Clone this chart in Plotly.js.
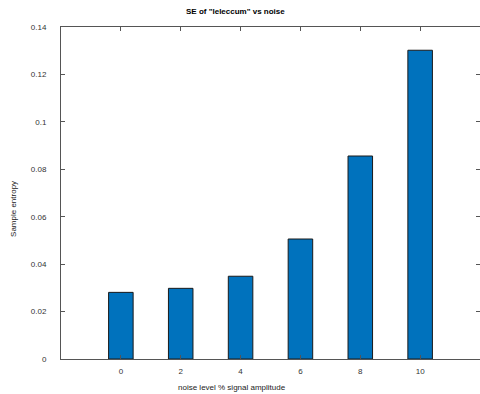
<!DOCTYPE html>
<html><head><meta charset="utf-8">
<script src="https://cdn.plot.ly/plotly-3.0.1.min.js"></script>
<style>html,body{margin:0;padding:0;background:#fff;}#chart{width:480px;height:394px;}</style>
</head><body><div id="chart"></div>
<script>
const noiseLevels = [0, 2, 4, 6, 8, 10];
const sampleEntropy = [0.0281, 0.0298, 0.0349, 0.0506, 0.0856, 0.1302];
const yTicks = [0, 0.02, 0.04, 0.06, 0.08, 0.1, 0.12, 0.14];
const yTickText = ['0', '0.02', '0.04', '0.06', '0.08', '0.1', '0.12', '0.14'];
const xTicks = [0, 2, 4, 6, 8, 10];
const titleText = 'SE of "leleccum" vs noise';
const xTitle = 'noise level % signal amplitude';
const yTitle = 'Sample entropy';

const font = 'Liberation Sans, Arial, sans-serif';
const trace = {
  type: 'bar', x: noiseLevels, y: sampleEntropy, width: 0.82,
  marker: {color: '#0072BD', line: {color: '#1a1a1a', width: 1}},
  hoverinfo: 'skip'
};
const axBase = {
  showline: true, linecolor: '#555', linewidth: 1, mirror: 'ticks',
  ticks: 'inside', ticklen: 4, tickcolor: '#555', showgrid: false, zeroline: false,
  tickfont: {family: font, size: 8, color: '#333'}
};
const layout = {
  width: 480, height: 394,
  margin: {l: 61, r: 0, t: 27, b: 35},
  paper_bgcolor: '#fff', plot_bgcolor: '#fff',
  showlegend: false,
  xaxis: Object.assign({}, axBase, {range: [-2, 12], tickvals: xTicks, ticklabelstandoff: 4}),
  yaxis: Object.assign({}, axBase, {range: [0, 0.14], tickvals: yTicks, ticktext: yTickText, ticklabelstandoff: 12}),
  annotations: [
    {text: '<b>' + titleText + '</b>', xref: 'paper', yref: 'paper', x: 0.417, y: 1, yshift: 16, xanchor: 'center', yanchor: 'middle', showarrow: false, font: {family: font, size: 8, color: '#000'}},
    {text: xTitle, xref: 'paper', yref: 'paper', x: 0.409, y: 0, yshift: -28, xanchor: 'center', yanchor: 'middle', showarrow: false, font: {family: font, size: 8, color: '#222'}},
    {text: yTitle, xref: 'paper', yref: 'paper', x: 0, y: 0.452, xshift: -47, xanchor: 'center', yanchor: 'middle', textangle: -90, showarrow: false, font: {family: font, size: 8, color: '#222'}}
  ]
};
Plotly.newPlot('chart', [trace], layout, {staticPlot: true});
</script></body></html>
